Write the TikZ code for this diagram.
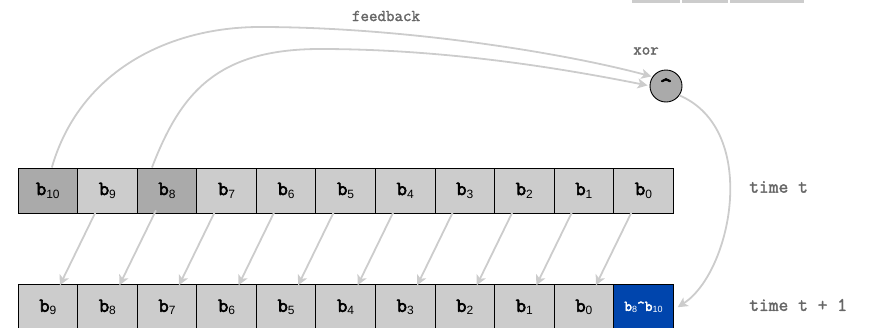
\documentclass[tikz,border=0pt]{standalone}
\usepackage{fontspec}
\newfontfamily\subfont{Liberation Sans}
\newfontfamily\courb[FakeBold=3]{Latin Modern Mono}
\newfontfamily\courm[FakeBold=1.8]{Latin Modern Mono}
\usetikzlibrary{arrows.meta}
\definecolor{cellgray}{HTML}{CCCCCC}
\definecolor{darkcell}{HTML}{AAAAAA}
\definecolor{linegray}{HTML}{CCCCCC}
\definecolor{labelgray}{HTML}{666666}
\definecolor{xorblue}{RGB}{0,69,173}
\newcommand{\bl}[1]{{\courb\fontsize{20}{20}\selectfont b}{\subfont\fontsize{12}{12}\selectfont\raisebox{-3pt}{#1}}}
\newcommand{\bsm}[1]{{\courb\fontsize{15}{15}\selectfont b}{\subfont\fontsize{9}{9}\selectfont\raisebox{-2pt}{#1}}}
\begin{document}
\begin{tikzpicture}[x=1pt,y=-1pt,
  cell/.style={draw=black,line width=0.9pt,fill=cellgray,minimum width=59.56pt,minimum height=45pt,inner sep=0pt,anchor=north west},
  dcell/.style={cell,fill=darkcell},
  bcell/.style={cell,fill=xorblue,text=white},
  conn/.style={draw=linegray,line width=1.8pt,-{Stealth[length=10pt,width=10pt,inset=2.5pt]}},
  lbl/.style={text=labelgray,font=\courm\fontsize{16.5}{16.5}\selectfont,inner sep=0pt},
  tlbl/.style={lbl,anchor=west,font=\courm\fontsize{19}{19}\selectfont},
  gate/.style={circle,draw=black,line width=0.9pt,fill=darkcell,minimum size=32pt,inner sep=0pt}
]
\useasboundingbox (0,0) rectangle (869,327);
\begin{scope}
\clip (0,0) rectangle (869,327);
% top-right fragment
\fill[cellgray] (632,-5) rectangle (680,3);
\fill[cellgray] (682,-5) rectangle (728,3);
\fill[cellgray] (730,-5) rectangle (804,3);
% top row
\node[dcell] (T1) at (17.6,167.5) {\bl{10}};
\node[cell]  (T2) at (77.16,167.5) {\bl{9}};
\node[dcell] (T3) at (136.72,167.5) {\bl{8}};
\node[cell]  (T4) at (196.28,167.5) {\bl{7}};
\node[cell]  (T5) at (255.84,167.5) {\bl{6}};
\node[cell]  (T6) at (315.40,167.5) {\bl{5}};
\node[cell]  (T7) at (374.96,167.5) {\bl{4}};
\node[cell]  (T8) at (434.52,167.5) {\bl{3}};
\node[cell]  (T9) at (494.08,167.5) {\bl{2}};
\node[cell]  (T10) at (553.64,167.5) {\bl{1}};
\node[cell]  (T11) at (613.20,167.5) {\bl{0}};
% bottom row
\node[cell]  (B1) at (17.6,284.3) {\bl{9}};
\node[cell]  (B2) at (77.16,284.3) {\bl{8}};
\node[cell]  (B3) at (136.72,284.3) {\bl{7}};
\node[cell]  (B4) at (196.28,284.3) {\bl{6}};
\node[cell]  (B5) at (255.84,284.3) {\bl{5}};
\node[cell]  (B6) at (315.40,284.3) {\bl{4}};
\node[cell]  (B7) at (374.96,284.3) {\bl{3}};
\node[cell]  (B8) at (434.52,284.3) {\bl{2}};
\node[cell]  (B9) at (494.08,284.3) {\bl{1}};
\node[cell]  (B10) at (553.64,284.3) {\bl{0}};
\node[bcell] (B11) at (613.20,284.3) {\bsm{8}{\courb\fontsize{15}{15}\selectfont\textasciicircum}\bsm{10}};
% shift arrows
\foreach \i [evaluate=\i as \j using int(\i+1)] in {1,...,10}{
  \draw[conn] ([xshift=-11pt,yshift=3pt]T\j.south) -- ([xshift=12pt,yshift=-1pt]B\i.north);
}
% xor gate
\node[gate] (X) at (666,86) {};
\node[font=\courb\fontsize{24}{24}\selectfont,inner sep=0pt] (XC) at (666,86) {\textasciicircum};
\node[lbl] (xorlbl) at (646,51) {xor};
\node[lbl] (fb) at (386,16) {feedback};
\node[tlbl] (tt) at (749,187) {time t};
\node[tlbl] (tt1) at (749,305) {time t + 1};
% feedback curves
\draw[conn] ([xshift=4pt]T1.north) .. controls (80,70) and (170,27) .. (260,27)
  .. controls (400,27) and (560,52) .. ([xshift=-2pt,yshift=-1pt]X.140);
\draw[conn] ([xshift=-15pt]T3.north) .. controls (180,95) and (215,49) .. (320,49)
  .. controls (450,49) and (570,70) .. ([xshift=-2pt]X.178);
% output curve
\draw[conn] (X.-35) .. controls (760,130) and (732,272) .. ([xshift=4pt]B11.east);
\end{scope}
\end{tikzpicture}
\end{document}
